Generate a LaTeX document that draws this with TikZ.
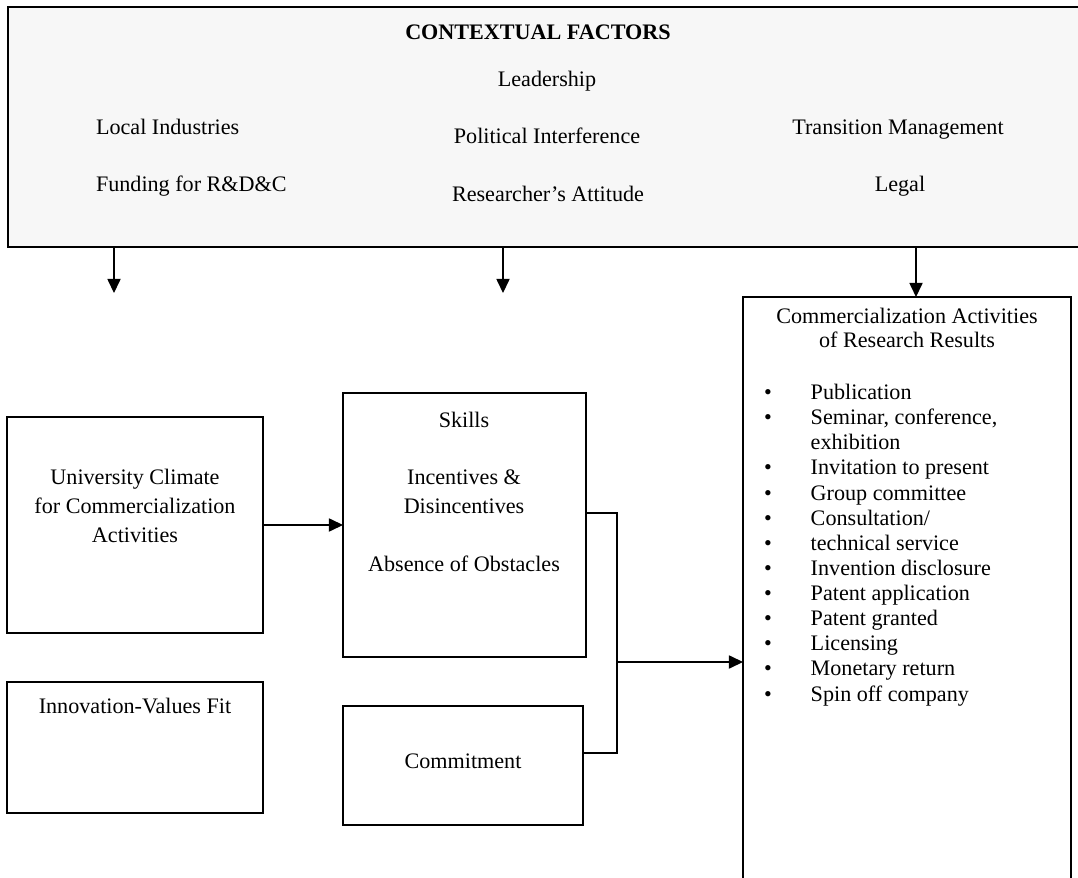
\documentclass[tikz,border=0pt]{standalone}
\usepackage{fontspec}
\setmainfont{Liberation Serif}
\usetikzlibrary{arrows.meta}
\usetikzlibrary{fit}
\tikzset{box/.style={draw=black, line width=0.7pt, fill=white, inner sep=0pt, outer sep=0pt}, txt/.style={font=\fontsize{12.6}{14.3}\selectfont, inner sep=0pt, outer sep=0pt, anchor=base}, wide/.style={font=\fontsize{12.6}{16.4}\selectfont, align=center}, flow/.style={line width=0.7pt, -{Triangle[length=8pt, width=7.5pt]}}}
\newcommand{\itembullet}{\makebox[26.6pt][l]{\textbullet}}
\newcommand{\itemgap}{\makebox[26.6pt][l]{}}

\begin{document}
\begin{tikzpicture}[x=0.02cm, y=-0.02cm]
	\useasboundingbox (0,0) rectangle (1078,878);
	\clip (0,0) rectangle (1078,878);
	\node[box, fill=black!3, line width=1.1pt, fit={(8,7) (1100,247)}] (ctx) {};
	\node[txt] (ctxhead) at (538,40) {\textbf{CONTEXTUAL FACTORS}};
	\node[txt] (lead) at (547,87) {Leadership};
	\node[txt, anchor=base west] (local) at (96,135) {Local Industries};
	\node[txt] (polit) at (547,144) {Political Interference};
	\node[txt] (trans) at (898,135) {Transition Management};
	\node[txt, anchor=base west] (fund) at (96,192) {Funding for R\&D\&C};
	\node[txt] (attit) at (548,202) {Researcher’s Attitude};
	\node[txt] (legal) at (900,192) {Legal};

	\node[box, fit={(7,417) (263,633)}] (univ) {};
	\node[txt, wide] (univtext) at (135,542) {University Climate\\for Commercialization\\Activities};
	\node[box, fit={(7,682) (263,813)}] (innov) {};
	\node[txt] (innovtext) at (135,713) {Innovation-Values Fit};

	\node[box, fit={(343,393) (586,657)}] (skills) {};
	\node[txt] (skillstext) at (464,427) {Skills};
	\node[txt, wide] (incent) at (464,513) {Incentives \&\\Disincentives};
	\node[txt] (absence) at (464,571) {Absence of Obstacles};
	\node[box, fit={(343,706) (583,825)}] (commit) {};
	\node[txt] (committext) at (463,768) {Commitment};

	\node[box, line width=0.9pt, fit={(743,297) (1071,900)}] (acts) {};
	\node[txt] (actshead) at (907,324) {Commercialization Activities};
	\node[txt] (actshead2) at (907,348) {of Research Results};
	\node[txt, anchor=base west, align=left] (list) at (764,701) {\itembullet Publication\\
		\itembullet Seminar, conference,\\
		\itemgap exhibition\\
		\itembullet Invitation to present\\
		\itembullet Group committee\\
		\itembullet Consultation/\\
		\itembullet technical service\\
		\itembullet Invention disclosure\\
		\itembullet Patent application\\
		\itembullet Patent granted\\
		\itembullet Licensing\\
		\itembullet Monetary return\\
		\itembullet Spin off company};

	\coordinate (d1) at (114,293);
	\coordinate (d2) at (503,293);
	\coordinate (d3) at (916,297);
	\draw[flow] (ctx.south -| d1) -- (d1);
	\draw[flow] (ctx.south -| d2) -- (d2);
	\draw[flow] (ctx.south -| d3) -- (d3);
	\draw[flow] (univ.east) -- (skills.west);
	\coordinate (join) at (617,662);
	\draw[line width=0.7pt] ([yshift=0.24cm]skills.east) -| (join) |- ([yshift=0.25cm]commit.east);
	\draw[flow] (join) -- (join -| acts.west);
\end{tikzpicture}
\end{document}
